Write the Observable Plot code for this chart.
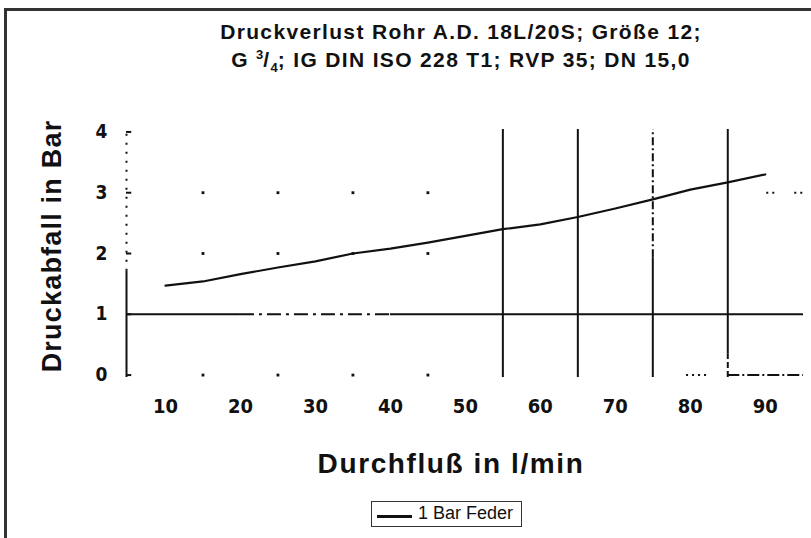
<!DOCTYPE html>
<html><head><meta charset="utf-8">
<script src="https://cdn.jsdelivr.net/npm/d3@7"></script>
<script src="https://cdn.jsdelivr.net/npm/@observablehq/plot@0.6"></script>
<style>
html,body{margin:0;padding:0;background:#fff;}
#wrap{position:relative;width:811px;height:538px;overflow:hidden;background:#fff;font-family:"Liberation Sans",Arial,sans-serif;color:#111;}
#title{position:absolute;left:111px;width:700px;top:18px;text-align:center;font-weight:bold;font-size:21px;line-height:28px;letter-spacing:1.35px;white-space:nowrap;z-index:3;}
#title sup,#title sub{font-size:0.62em;line-height:0;letter-spacing:0;}
#chart{position:absolute;left:0;top:0;z-index:2;}
#topline{position:absolute;left:4px;top:8px;width:807px;height:3px;background:#333;z-index:9;}
#legend{position:absolute;left:371px;top:501px;width:149px;height:24px;border:1px solid #333;font-size:18px;z-index:3;}
#legend .sw{position:absolute;left:5px;top:13px;width:35px;height:3px;background:#111;}
#legend .lb{position:absolute;left:46px;top:1px;line-height:20px;white-space:nowrap;}
</style></head>
<body>
<div id="wrap">
  <div id="chart"></div>
  <div id="title"></div>
  <div id="topline"></div>
  <div id="legend"><span class="sw"></span><span class="lb"></span></div>
</div>
<script>
const titleLine1 = "Druckverlust Rohr A.D. 18L/20S; Größe 12;";
const titleLine2 = "G <sup>3</sup>/<sub>4</sub>; IG DIN ISO 228 T1; RVP 35; DN 15,0";
const xLabel = "Durchfluß in l/min";
const yLabel = "Druckabfall in Bar";
const seriesName = "1 Bar Feder";

const flow = [10,15,20,25,30,35,40,45,50,55,60,65,70,75,80,85,90];
const drop = [1.47,1.54,1.66,1.77,1.87,2.00,2.08,2.18,2.29,2.40,2.48,2.60,2.74,2.89,3.05,3.17,3.30];
const xTicks = [10,20,30,40,50,60,70,80,90];
const yTicks = [0,1,2,3,4];
const solidV = [55,65];
const minorX = [15,25,35,45];
const minorY = [0,2,3];
const xDomain = [4.8,95.1];
const yDomain = [-0.04,4.04];

document.getElementById("title").innerHTML = titleLine1 + "<br>" + titleLine2;
document.querySelector("#legend .lb").textContent = seriesName;

const ink = "#111";
const tickFont = "'DejaVu Sans Condensed','DejaVu Sans',sans-serif";
const data = flow.map((f,i)=>({f, p: drop[i]}));

const chart = Plot.plot({
  width: 811, height: 538,
  marginLeft: 126, marginRight: 8, marginTop: 129, marginBottom: 161,
  x: {domain: xDomain},
  y: {domain: yDomain},
  style: {background: "transparent", color: ink},
  marks: [
    Plot.axisX(xTicks, {tickSize: 0, tickPadding: 21, fontSize: 20, fontWeight: "bold", fontFamily: tickFont, tickFormat: d => String(d), label: null}),
    Plot.axisY(yTicks, {tickSize: 0, tickPadding: 19, fontSize: 19, fontWeight: "bold", fontFamily: tickFont, tickFormat: d => String(d), label: null}),
    Plot.ruleX([xDomain[0]], {y1: yDomain[0], y2: 1.71, stroke: ink, strokeWidth: 2}),
    Plot.ruleX([xDomain[0]], {y1: 1.71, y2: 4.0, stroke: ink, strokeWidth: 2, strokeDasharray: "2,7"}),
    Plot.ruleY(yTicks, {x1: xDomain[0], x2: 5.5, stroke: ink, strokeWidth: 2}),
    Plot.ruleX(solidV, {y1: yDomain[0], y2: yDomain[1], stroke: ink, strokeWidth: 2}),
    Plot.ruleX([75], {y1: yDomain[0], y2: 1.93, stroke: ink, strokeWidth: 2}),
    Plot.ruleX([75], {y1: 1.93, y2: yDomain[1], stroke: ink, strokeWidth: 2, strokeDasharray: "8,3,2,3"}),
    Plot.ruleX([85], {y1: 0.35, y2: yDomain[1], stroke: ink, strokeWidth: 2}),
    Plot.ruleX([85], {y1: yDomain[0], y2: 0.35, stroke: ink, strokeWidth: 2, strokeDasharray: "6,3"}),
    Plot.ruleY([1], {x1: xDomain[0], x2: 20, stroke: ink, strokeWidth: 2}),
    Plot.ruleY([1], {x1: 20, x2: 40, stroke: ink, strokeWidth: 2, strokeDasharray: "14,5,3,5"}),
    Plot.ruleY([1], {x1: 40, x2: xDomain[1], stroke: ink, strokeWidth: 2}),
    Plot.ruleY([0], {x1: 85, x2: xDomain[1], stroke: ink, strokeWidth: 2, strokeDasharray: "12,3,2,3"}),
    Plot.ruleY([0], {x1: 79.5, x2: 82.5, stroke: ink, strokeWidth: 2, strokeDasharray: "2,4"}),
    Plot.ruleY([3], {x1: 90.2, x2: xDomain[1], stroke: ink, strokeWidth: 2, strokeDasharray: "2,4,2,20"}),
    Plot.dot(d3.cross(minorX, minorY), {x: d => d[0], y: d => d[1], r: 1.6, symbol: "square", fill: ink, stroke: null}),
    Plot.line(data, {x: "f", y: "p", stroke: ink, strokeWidth: 2.2}),
    Plot.text([xLabel], {text: d => d, frameAnchor: "bottom", textAnchor: "middle", lineAnchor: "bottom", dx: -14, dy: 95, fontSize: 28, fontWeight: "bold", fontFamily: "'Liberation Sans',Arial,sans-serif", fill: ink}),
    Plot.text([yLabel], {text: d => d, frameAnchor: "left", textAnchor: "middle", lineAnchor: "bottom", rotate: -90, dx: -66, dy: -7.5, fontSize: 27, fontWeight: "bold", fontFamily: "'Liberation Sans',Arial,sans-serif", fill: ink})
  ]
});
const svgSel = d3.select(chart);
svgSel.selectAll("text").filter(function(){ return this.textContent === xLabel; }).attr("letter-spacing", "1.6px");
svgSel.selectAll("text").filter(function(){ return this.textContent === yLabel; }).attr("letter-spacing", "1.2px");
svgSel.append("line").attr("x1", 5.5).attr("x2", 5.5).attr("y1", 8).attr("y2", 538)
  .attr("stroke", "#333").attr("stroke-width", 3);
svgSel.append("line").attr("x1", 4).attr("x2", 811).attr("y1", 9.5).attr("y2", 9.5)
  .attr("stroke", "#333").attr("stroke-width", 3);
document.getElementById("chart").appendChild(chart);
</script>
</body></html>
